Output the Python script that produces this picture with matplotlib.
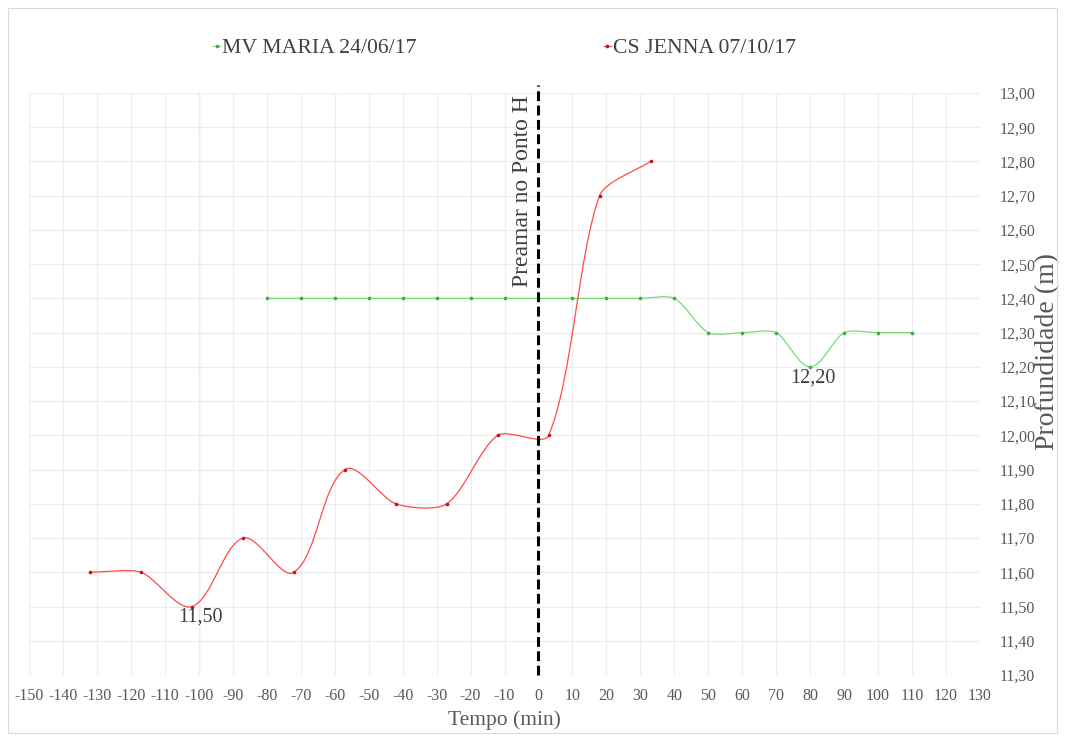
import numpy as np
import matplotlib
matplotlib.use("Agg")
import matplotlib.pyplot as plt
from matplotlib.path import Path
from matplotlib.patches import PathPatch, Rectangle
from matplotlib.lines import Line2D

plt.rcParams['font.family'] = ['Liberation Serif', 'DejaVu Serif']

# ---- data -------------------------------------------------------------
maria_label = "MV MARIA 24/06/17"
maria_t = [-80, -70, -60, -50, -40, -30, -20, -10, 0, 10, 20, 30, 40,
           50, 60, 70, 80, 90, 100, 110]
maria_d = [12.40, 12.40, 12.40, 12.40, 12.40, 12.40, 12.40, 12.40, 12.40,
           12.40, 12.40, 12.40, 12.40, 12.30, 12.30, 12.30, 12.20, 12.30,
           12.30, 12.30]

jenna_label = "CS JENNA 07/10/17"
jenna_t = [-132, -117, -102, -87, -72, -57, -42, -27, -12, 3, 18, 33]
jenna_d = [11.60, 11.60, 11.50, 11.70, 11.60, 11.90, 11.80, 11.80, 12.00,
           12.00, 12.70, 12.80]

x_ticks = list(range(-150, 131, 10))
y_ticks = [round(11.30 + 0.1 * i, 2) for i in range(18)]

preamar_t = 0
preamar_text = "Preamar no Ponto H"
x_title = "Tempo (min)"
y_title = "Profundidade (m)"

# ---- figure -----------------------------------------------------------
W, H = 1065, 736
fig = plt.figure(figsize=(W / 100, H / 100), dpi=100)
ax = fig.add_axes([29 / W, 1 - 675 / H, (980 - 29) / W, (675 - 93) / H])
ax.set_xlim(-150, 130)
ax.set_ylim(11.30, 13.00)

TXT = '#595959'
GRID = '#ececec'

# grid
ax.set_xticks(x_ticks)
ax.set_yticks(y_ticks)
ax.set_xticklabels([str(v) for v in x_ticks])
ax.set_yticklabels([f"{v:.2f}".replace('.', ',') for v in y_ticks])
ax.grid(True, color=GRID, lw=0.8, zorder=0)
ax.set_axisbelow(True)
ax.axvline(-100, color='#d0d0d0', lw=0.9, zorder=0.5)
for s in ax.spines.values():
    s.set_visible(False)

ax.yaxis.tick_right()
ax.tick_params(axis='both', length=0, labelcolor=TXT, labelsize=11.5)
ax.tick_params(axis='y', pad=14)
ax.tick_params(axis='x', pad=9)


def smooth_path(xs, ys, f=0.25):
    """Smoothed cubic Bezier path through the points, built in display space."""
    pts = ax.transData.transform(np.column_stack([xs, ys]))
    n = len(pts)
    verts = [pts[0]]
    codes = [Path.MOVETO]
    for i in range(n - 1):
        p0 = pts[i - 1] if i > 0 else pts[i]
        p1, p2 = pts[i], pts[i + 1]
        p3 = pts[i + 2] if i + 2 < n else pts[i + 1]
        seg = np.hypot(*(p2 - p1))
        d1 = (p2 - p0) / np.hypot(*(p2 - p0))
        d2 = (p3 - p1) / np.hypot(*(p3 - p1))
        verts += [p1 + f * seg * d1, p2 - f * seg * d2, p2]
        codes += [Path.CURVE4] * 3
    verts = ax.transData.inverted().transform(np.array(verts))
    return Path(verts, codes)


series = [
    (maria_t, maria_d, '#74dc74', '#4aa84a', maria_label),
    (jenna_t, jenna_d, '#ff4a4a', '#c01818', jenna_label),
]
handles = []
for t, d, lc, mc, lab in series:
    ax.add_patch(PathPatch(smooth_path(t, d), fill=False, edgecolor=lc,
                           lw=0.9, zorder=3))
    ax.plot(t, d, ls='none', marker='o', ms=1.6, mfc=mc, mec=mc, zorder=4)
    handles.append(Line2D([0], [0], color=lc, lw=0.9, marker='o', ms=1.6,
                          mfc=mc, mec=mc))

# high-water reference line
ax.plot([preamar_t, preamar_t], [11.30, 13.023], color='black', lw=2.2,
        dashes=(3.2, 1.5), clip_on=False, zorder=5)
ax.text(-4.7, 12.712, preamar_text, rotation=90, ha='center', va='center',
        fontsize=17, color='#404040', zorder=6)

# data labels on the minima
i_min = int(np.argmin(jenna_d))
ax.annotate(f"{jenna_d[i_min]:.2f}".replace('.', ','),
            (jenna_t[i_min], jenna_d[i_min]), xytext=(6, -1),
            textcoords='offset points', ha='center', va='top',
            fontsize=14.5, color='#404040', zorder=6)
i_min = int(np.argmin(maria_d))
ax.annotate(f"{maria_d[i_min]:.2f}".replace('.', ','),
            (maria_t[i_min], maria_d[i_min]), xytext=(2, -1),
            textcoords='offset points', ha='center', va='top',
            fontsize=14.5, color='#404040', zorder=6)

# axis titles
ax.set_xlabel(x_title, fontsize=15.5, color=TXT, va='center')
ax.xaxis.set_label_coords(0.5, (675 - 720) / 582)
ax.yaxis.set_label_position('right')
ax.set_ylabel(y_title, fontsize=20, color=TXT, va='center', ha='center')
ax.yaxis.set_label_coords((1048 - 29) / 951, (675 - 351) / 582)

# legend
leg = ax.legend(handles, [maria_label, jenna_label], loc='center',
                bbox_to_anchor=(0.5, (675 - 48) / 582), ncol=2,
                frameon=False, handlelength=0.3, handletextpad=0.1,
                columnspacing=8.6, fontsize=15.7)
for txt in leg.get_texts():
    txt.set_color('#404040')

# chart frame
fig.patches.append(Rectangle((8 / W, 3 / H), (1057 - 8) / W, (728 - 3) / H,
                             transform=fig.transFigure, fill=False,
                             edgecolor='#d9d9d9', lw=0.8))

fig.savefig('out.png', dpi=100)
